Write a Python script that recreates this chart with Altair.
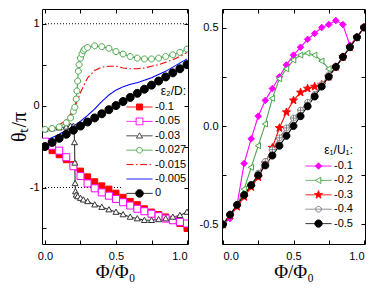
import math
import altair as alt
import pandas as pd

# ---------------- data: panel (a), series labelled by eps2/D ----------------
A_SERIES = ["-0.1", "-0.05", "-0.03", "-0.027", "-0.015", "-0.005", "0"]

A_PHI_M01 = [0.0, 0.05, 0.1, 0.15, 0.2, 0.25, 0.3, 0.35, 0.4, 0.45, 0.5, 0.55, 0.6, 0.65, 0.7, 0.75, 0.8, 0.85, 0.9, 0.95, 1.0]
A_TH_M01 = [-0.5, -0.55, -0.6, -0.66, -0.72, -0.8, -0.87, -0.93, -0.98, -1.02, -1.07, -1.12, -1.17, -1.21, -1.26, -1.3, -1.33, -1.36, -1.4, -1.44, -1.5]

A_PHI_M005 = [0.0, 0.05, 0.1, 0.15, 0.2, 0.25, 0.3, 0.35, 0.4, 0.45, 0.5, 0.55, 0.6, 0.65, 0.7, 0.75, 0.8, 0.85, 0.9, 0.95, 1.0]
A_TH_M005 = [-0.44, -0.49, -0.55, -0.63, -0.74, -0.86, -0.95, -1.01, -1.06, -1.1, -1.14, -1.18, -1.22, -1.26, -1.29, -1.32, -1.35, -1.38, -1.4, -1.42, -1.44]

A_PHI_M003 = [0.0, 0.05, 0.1, 0.15, 0.18, 0.2, 0.205, 0.208, 0.21, 0.212, 0.215, 0.22, 0.23, 0.25, 0.27, 0.3,
              0.35, 0.4, 0.45, 0.5, 0.55, 0.6, 0.65, 0.7, 0.75, 0.8, 0.85, 0.9, 0.95, 1.0]
A_TH_M003 = [-0.29, -0.28, -0.27, -0.26, -0.25, -0.25, -0.28, -0.45, -0.7, -0.95, -1.05, -1.09, -1.11, -1.13, -1.15, -1.17,
             -1.21, -1.24, -1.27, -1.3, -1.33, -1.36, -1.38, -1.4, -1.4, -1.39, -1.38, -1.36, -1.34, -1.3]

A_PHI_M0027 = [0.0, 0.05, 0.1, 0.15, 0.18, 0.2, 0.21, 0.22, 0.225, 0.23, 0.235, 0.24, 0.25, 0.26, 0.27, 0.28, 0.3,
               0.35, 0.4, 0.45, 0.5, 0.55, 0.6, 0.65, 0.7, 0.75, 0.8, 0.85, 0.9, 0.95, 1.0]
A_TH_M0027 = [-0.29, -0.28, -0.26, -0.21, -0.15, -0.07, -0.02, 0.08, 0.18, 0.3, 0.42, 0.5, 0.58, 0.63, 0.67, 0.69, 0.71,
              0.73, 0.72, 0.7, 0.66, 0.63, 0.6, 0.58, 0.57, 0.57, 0.58, 0.6, 0.62, 0.65, 0.69]

A_PHI_M0015 = [0.0, 0.05, 0.1, 0.15, 0.2, 0.25, 0.3, 0.35, 0.4, 0.45, 0.5, 0.55, 0.6, 0.65, 0.7, 0.75, 0.8, 0.85, 0.9, 0.95, 1.0]
A_TH_M0015 = [-0.3, -0.28, -0.24, -0.17, -0.06, 0.16, 0.34, 0.43, 0.47, 0.48, 0.48, 0.46, 0.45, 0.45, 0.46, 0.48, 0.5, 0.53, 0.56, 0.6, 0.65]

A_PHI_M0005 = [0.0, 0.05, 0.1, 0.15, 0.2, 0.25, 0.3, 0.35, 0.4, 0.45, 0.5, 0.55, 0.6, 0.65, 0.7, 0.75, 0.8, 0.85, 0.9, 0.95, 1.0]
A_TH_M0005 = [-0.43, -0.39, -0.35, -0.3, -0.25, -0.19, -0.12, -0.04, 0.05, 0.13, 0.19, 0.23, 0.26, 0.28, 0.31, 0.34, 0.38, 0.42, 0.47, 0.52, 0.57]

A_PHI_0 = [0.0, 0.05, 0.1, 0.15, 0.2, 0.25, 0.3, 0.35, 0.4, 0.45, 0.5, 0.55, 0.6, 0.65, 0.7, 0.75, 0.8, 0.85, 0.9, 0.95, 1.0]
A_TH_0 = [-0.5, -0.45, -0.4, -0.35, -0.3, -0.25, -0.2, -0.15, -0.1, -0.05, 0.0, 0.05, 0.1, 0.15, 0.2, 0.25, 0.3, 0.35, 0.4, 0.45, 0.5]

# ---------------- data: panel (b), series labelled by eps1/U1 ----------------
B_SERIES = ["-0.1", "-0.2", "-0.3", "-0.4", "-0.5"]
B_PHI = [0.0, 0.05, 0.1, 0.15, 0.2, 0.25, 0.3, 0.35, 0.4, 0.45, 0.5, 0.55, 0.6, 0.65, 0.7, 0.75, 0.8, 0.85, 0.9, 0.95, 1.0]
B_TH_M01 = [-0.5, -0.47, -0.4, -0.19, -0.065, 0.05, 0.13, 0.19, 0.25, 0.31, 0.36, 0.4, 0.44, 0.47, 0.5, 0.515, 0.535, 0.515, 0.41, 0.45, 0.5]
B_TH_M02 = [-0.5, -0.46, -0.4, -0.32, -0.21, -0.1, 0.01, 0.14, 0.24, 0.29, 0.335, 0.36, 0.37, 0.36, 0.33, 0.29, 0.3, 0.35, 0.4, 0.45, 0.5]
B_TH_M03 = [-0.5, -0.455, -0.41, -0.36, -0.31, -0.26, -0.19, -0.11, -0.01, 0.07, 0.13, 0.17, 0.19, 0.2, 0.21, 0.25, 0.3, 0.35, 0.4, 0.45, 0.5]
B_TH_M04 = [-0.5, -0.45, -0.4, -0.35, -0.3, -0.24, -0.18, -0.12, -0.06, -0.01, 0.04, 0.08, 0.12, 0.16, 0.21, 0.26, 0.3, 0.35, 0.4, 0.45, 0.5]
B_TH_M05 = [-0.5, -0.45, -0.4, -0.35, -0.3, -0.25, -0.2, -0.15, -0.1, -0.05, 0.0, 0.05, 0.1, 0.15, 0.2, 0.25, 0.3, 0.35, 0.4, 0.45, 0.5]

# reference levels (dotted) in panel (a)
A_REF_Y = [1.0, -1.0]
A_REF_X0 = [-0.021, -0.021]
A_REF_X1 = [1.007, 0.54]

# axis ticks
X_TICKS = [0.0, 0.25, 0.5, 0.75, 1.0]
A_Y_TICKS = [-1.5, -1.0, -0.5, 0.0, 0.5, 1.0]
B_Y_TICKS = [-0.5, -0.25, 0.0, 0.25, 0.5]


def long_df(pairs, names):
    rows = []
    for name, (xs, ys) in zip(names, pairs):
        for x, y in zip(xs, ys):
            rows.append({"phi": x, "theta": y, "s": name})
    return pd.DataFrame(rows)


df_a = long_df([(A_PHI_M01, A_TH_M01), (A_PHI_M005, A_TH_M005), (A_PHI_M003, A_TH_M003),
                (A_PHI_M0027, A_TH_M0027), (A_PHI_M0015, A_TH_M0015), (A_PHI_M0005, A_TH_M0005),
                (A_PHI_0, A_TH_0)], A_SERIES)
df_b = long_df([(B_PHI, B_TH_M01), (B_PHI, B_TH_M02), (B_PHI, B_TH_M03), (B_PHI, B_TH_M04), (B_PHI, B_TH_M05)],
               B_SERIES)
df_ref = pd.DataFrame({"y": A_REF_Y, "x0": A_REF_X0, "x1": A_REF_X1})

# ---------------- marker geometry (unit paths) ----------------
def f(v):
    return ("%.3f" % v).rstrip("0").rstrip(".")


def sq(h):
    return "M%s,%sL%s,%sL%s,%sL%s,%sZ" % (f(-h), f(-h), f(h), f(-h), f(h), f(h), f(-h), f(h))


def circ(r):
    return "M%s,0A%s,%s 0 1,0 %s,0A%s,%s 0 1,0 %s,0Z" % (f(-r), f(r), f(r), f(r), f(r), f(r), f(-r))


def tri_up(t):
    return "M0,%sL%s,%sL%s,%sZ" % (f(-t), f(t), f(0.75 * t), f(-t), f(0.75 * t))


def tri_left(t):
    return "M%s,0L%s,%sL%s,%sZ" % (f(-t), f(0.75 * t), f(-t), f(0.75 * t), f(t))


def diam(d):
    return "M0,%sL%s,0L0,%sL%s,0Z" % (f(-d), f(d), f(d), f(-d))


def star(R):
    pts = []
    for k in range(10):
        a = math.radians(-90 + 36 * k)
        r = R if k % 2 == 0 else 0.42 * R
        pts.append("%s,%s" % (f(r * math.cos(a)), f(r * math.sin(a))))
    return "M" + "L".join(pts) + "Z"


def ocross(r):
    return circ(r) + "M%s,0L%s,0M0,%sL0,%s" % (f(-r), f(r), f(-r), f(r))


def seg(a):
    if a <= 0:
        return "M-1,0L1,0"
    return "M-1,0L%s,0M%s,0L1,0" % (f(-a), f(a))


FULL = "M-1,0L1,0"

# data markers drawn at size 100 -> 1 unit = 5 px
RED, MAG, GRN, BLU, BLK, GRY, DGR = "#ff0000", "#ff00ff", "#4ca64c", "#0000ff", "#000000", "#808080", "#333333"
SOLID = [1, 0]
DASHDOT = [7, 2.5, 1.5, 2.5]

STYLE_A = {
    "color": [RED, MAG, DGR, GRN, RED, BLU, BLK],
    "dash": [SOLID, SOLID, SOLID, SOLID, DASHDOT, SOLID, SOLID],
    "mshape": [sq(0.6), sq(0.7), tri_up(0.6), circ(0.6), FULL, FULL, circ(0.8)],
    "mfill": [RED, "white", "white", "white", "transparent", "transparent", BLK],
    "lshape": [FULL + sq(0.23), seg(0.26) + sq(0.26), seg(0.16) + tri_up(0.23), seg(0.22) + circ(0.22),
                FULL, FULL, FULL + circ(0.29)],
    "lfill": [RED, "white", "white", "white", "transparent", "transparent", BLK],
    "markers": ["-0.1", "-0.05", "-0.03", "-0.027", "0"],
}
STYLE_B = {
    "color": [MAG, GRN, RED, GRY, BLK],
    "dash": [SOLID, SOLID, SOLID, SOLID, SOLID],
    "mshape": [diam(0.65), tri_left(0.6), star(0.85), ocross(0.6), circ(0.7)],
    "mfill": [MAG, "white", RED, "white", BLK],
    "lshape": [FULL + diam(0.25), "M-1,0L-0.24,0M0.18,0L1,0" + tri_left(0.24), FULL + star(0.32),
               FULL + circ(0.22), FULL + circ(0.28)],
    "lfill": [MAG, "white", RED, "white", BLK],
    "markers": B_SERIES,
}

FONT = "Liberation Sans"
SERIF = "Liberation Serif"
TICK = {"expr": "-4"}


def lab_expr(step, fmt):
    return ("abs(datum.value/%s - round(datum.value/%s)) < 0.000001 ? "
            "replace(format(datum.value, '%s'), '\u2212', '-') : ''") % (step, step, fmt)


def panel(df, order, st, xdom, ydom, yticks, ystep, yfmt, ytitle, leg_title, leg_x, leg_y, w, h, ylp, refs=None):
    xs = alt.Scale(domain=xdom, nice=False, zero=False)
    ys = alt.Scale(domain=ydom, nice=False, zero=False)
    ykw = dict(orient="left", values=yticks, labelExpr=lab_expr(ystep, yfmt), tickSize=TICK,
               labelPadding=ylp)
    if ytitle:
        ykw.update(title=ytitle, titlePadding=0, titleFontSize=20)
    else:
        ykw.update(title=None)
    ax_l = alt.Axis(**ykw)
    ax_b = alt.Axis(orient="bottom", values=X_TICKS, labelExpr=lab_expr(0.5, ".1f"), tickSize=TICK,
                    labelPadding=10, title="Φ/Φ₀", titlePadding=1, titleFontSize=19)
    ax_t = alt.Axis(orient="top", values=X_TICKS, labels=False, tickSize=TICK, title=None)
    ax_r = alt.Axis(orient="right", values=yticks, labels=False, tickSize=TICK, title=None)

    def sc(rng):
        return alt.Scale(domain=order, range=rng)

    line = alt.Chart(df).mark_line(strokeWidth=1.1, clip=True).encode(
        x=alt.X("phi:Q", scale=xs, axis=ax_b),
        y=alt.Y("theta:Q", scale=ys, axis=ax_l),
        stroke=alt.Stroke("s:N", scale=sc(st["color"]), legend=None),
        strokeDash=alt.StrokeDash("s:N", scale=sc(st["dash"]), legend=None),
    )
    pts = alt.Chart(df).transform_filter(
        alt.FieldOneOfPredicate(field="s", oneOf=st["markers"])
    ).mark_point(size=100, opacity=1, strokeWidth=1, clip=True).encode(
        x=alt.X("phi:Q", scale=xs, axis=None),
        y=alt.Y("theta:Q", scale=ys, axis=None),
        shape=alt.Shape("s:N", scale=sc(st["mshape"]), legend=None),
        stroke=alt.Stroke("s:N", scale=sc(st["color"]), legend=None),
        fill=alt.Fill("s:N", scale=sc(st["mfill"]), legend=None),
    )
    leg = alt.Legend(title=leg_title, orient="none", legendX=leg_x, legendY=leg_y, symbolSize=676,
                     symbolStrokeWidth=1, symbolOffset=0, labelOffset=2, labelFont=FONT, labelFontSize=11,
                     labelColor="black", titleFont=FONT, titleFontSize=12, titleFontWeight="normal",
                     titleColor="black", titleAnchor="end", titlePadding=3, rowPadding=2.4, padding=0,
                     clipHeight=12)
    keyl = alt.Chart(df).transform_filter("false").mark_point(opacity=1, strokeWidth=1).encode(
        x=alt.X("phi:Q", scale=xs, axis=ax_t),
        y=alt.Y("theta:Q", scale=ys, axis=ax_r),
        shape=alt.Shape("s:N", scale=sc(st["lshape"]), legend=leg),
        stroke=alt.Stroke("s:N", scale=sc(st["color"]), legend=leg),
        fill=alt.Fill("s:N", scale=sc(st["lfill"]), legend=leg),
        strokeDash=alt.StrokeDash("s:N", scale=sc(st["dash"]), legend=leg),
    )
    layers = []
    if refs is not None:
        layers.append(alt.Chart(refs).mark_rule(color="black", strokeWidth=1, strokeDash=[1, 2]).encode(
            x=alt.X("x0:Q", scale=xs, axis=None), x2="x1:Q", y=alt.Y("y:Q", scale=ys, axis=None)))
    layers += [line, pts, keyl]
    return alt.layer(*layers).resolve_scale(
        x="independent", y="independent", stroke="independent", fill="independent",
        shape="independent", strokeDash="independent"
    ).properties(width=w, height=h)


pa = panel(df_a, A_SERIES, STYLE_A, [-0.021, 1.007], [-1.69, 1.18], A_Y_TICKS, 1, "d", "θₜ/π",
           "ε₂/D:", 84, 77, 146, 235, 7, refs=df_ref)
pb = panel(df_b, B_SERIES, STYLE_B, [-0.007, 1.007], [-0.599, 0.594], B_Y_TICKS, 0.5, ".1f", None,
           "ε₁/U₁:", 83, 136, 143, 235, 8)

chart = alt.hconcat(pa, pb, spacing=9).properties(
    padding={"left": 0, "top": 0, "right": 0, "bottom": 0}
).configure(background="white", font=FONT).configure_view(
    stroke="black", strokeWidth=1
).configure_axis(
    labelFont=FONT, labelFontSize=11, labelColor="black", tickColor="black", tickWidth=1,
    titleFont=SERIF, titleFontSize=18, titleFontWeight="normal", titleColor="black",
    grid=False, domain=False
)

chart.save("out.html", embed_options={"renderer": "svg", "actions": False})
